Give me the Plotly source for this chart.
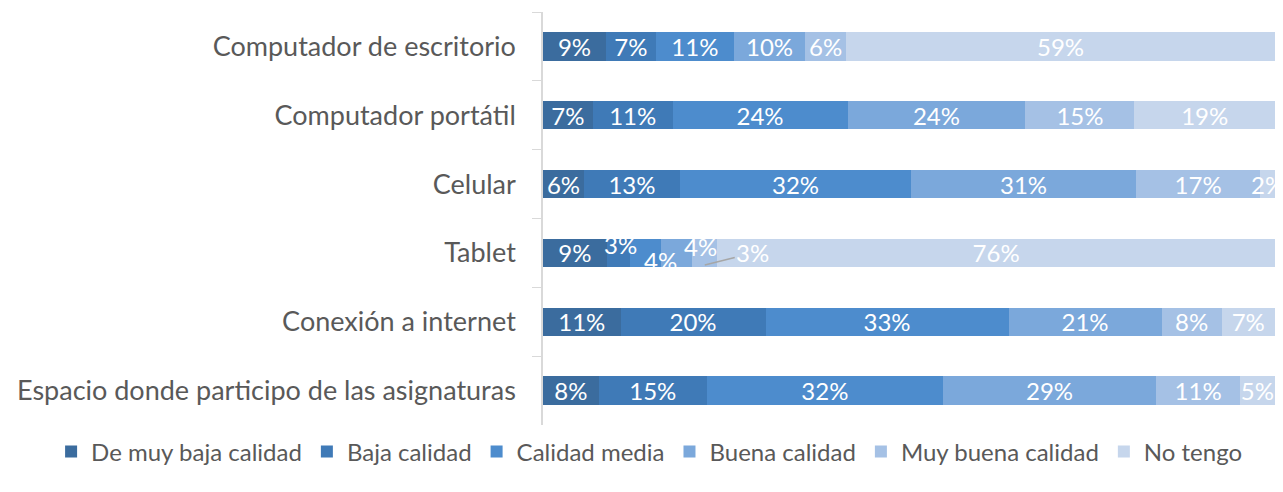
import plotly.graph_objects as go

categories = [
    "Computador de escritorio",
    "Computador portátil",
    "Celular",
    "Tablet",
    "Conexión a internet",
    "Espacio donde participo de las asignaturas",
]
series_names = ["De muy baja calidad", "Baja calidad", "Calidad media",
                "Buena calidad", "Muy buena calidad", "No tengo"]

muy_baja = [8.6, 6.8, 5.6, 8.7, 10.6, 7.6]
baja = [6.8, 10.9, 13.1, 3.2, 19.8, 14.8]
media = [10.7, 23.9, 31.6, 4.2, 33.2, 32.2]
buena = [9.7, 24.3, 30.7, 4.3, 20.9, 29.2]
muy_buena = [5.6, 14.9, 17.0, 3.4, 8.2, 11.4]
no_tengo = [58.6, 19.2, 2.0, 76.2, 7.3, 4.8]

colors = ["#3B6C9E", "#3F7AB7", "#4D8CCD", "#7BA8DB", "#A5C1E5", "#C6D6EC"]

series = [muy_baja, baja, media, buena, muy_buena, no_tengo]

FONT = "Lato"
LBL = 24

fig = go.Figure()
tablet_idx = categories.index("Tablet")
for name, vals, col in zip(series_names, series, colors):
    texts = [f"{round(v)}%" for v in vals]
    if name in ("Baja calidad", "Calidad media", "Buena calidad", "Muy buena calidad"):
        texts[tablet_idx] = ""
    fig.add_trace(go.Bar(
        y=categories, x=vals, name=name, orientation="h",
        marker=dict(color=col, line=dict(width=0)),
        text=texts, textposition="inside", insidetextanchor="middle",
        textangle=0, textfont=dict(color="white", size=LBL, family=FONT),
        hoverinfo="skip",
    ))

# Tablet small labels
cum = 0
tab_centers = []
for vals in series:
    v = vals[tablet_idx]
    tab_centers.append((cum + v / 2, v))
    cum += v
offsets = {1: (2, 8), 2: (15, -8), 3: (24, 6)}
for i, (xs, ys) in offsets.items():
    c, v = tab_centers[i]
    fig.add_annotation(x=c, y=categories[tablet_idx], text=f"{round(v)}%",
                       showarrow=False, xshift=xs, yshift=ys,
                       font=dict(color="white", size=LBL, family=FONT))
c, v = tab_centers[4]
fig.add_annotation(x=c, y=categories[tablet_idx], text=f"{round(v)}%",
                   showarrow=True, arrowhead=0, arrowwidth=1.5, arrowcolor="#A6A6A6",
                   ax=48, ay=-12, yshift=-12, standoff=0,
                   font=dict(color="white", size=LBL, family=FONT))

fig.update_layout(
    barmode="stack",
    bargap=0.59,
    width=1283, height=492,
    margin=dict(l=543, r=8, t=12, b=67),
    paper_bgcolor="white", plot_bgcolor="white",
    font=dict(family=FONT, color="#595959"),
    uniformtext=dict(minsize=LBL, mode="show"),
    showlegend=True,
    legend=dict(orientation="h", xref="paper", yref="paper",
                x=-0.672, xanchor="left", y=-0.065, yanchor="middle",
                font=dict(size=24, color="#595959"),
                traceorder="normal", itemwidth=30),
    xaxis=dict(range=[0, 100], visible=False, fixedrange=True),
    yaxis=dict(autorange="reversed", showline=True, linecolor="#D9D9D9", linewidth=1.5,
               ticks="outside", tickson="boundaries", ticklen=9, tickcolor="#D9D9D9",
               tickfont=dict(size=27, color="#595959"), ticklabelstandoff=20,
               automargin=False),
)

fig.write_html("out.html", config={"displayModeBar": False},
               post_script="document.body.style.margin='0';")
